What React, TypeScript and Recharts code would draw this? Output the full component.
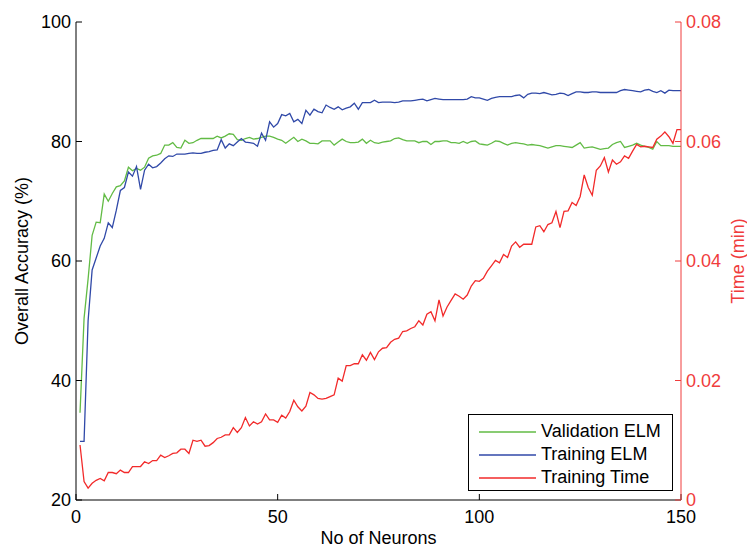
import { LineChart, Line, XAxis, YAxis, Legend } from "recharts";

const validationElm = [
  34.6, 50.4, 57.0, 64.3, 66.5, 66.4, 71.2, 70.0, 71.3, 72.4,
  72.6, 73.4, 75.7, 75.1, 75.5, 75.2, 75.7, 77.2, 77.6, 77.7,
  78.0, 79.4, 79.4, 79.8, 79.0, 78.9, 80.2, 79.7, 79.8, 80.2,
  80.5, 80.5, 80.5, 80.5, 80.9, 80.6, 80.9, 81.3, 81.2, 80.3,
  80.2, 80.5, 80.7, 80.4, 80.5, 80.7, 80.9, 80.9, 80.7, 80.4,
  80.2, 79.7, 80.2, 80.7, 80.0, 80.4, 80.1, 79.7, 79.7, 79.6,
  80.1, 80.1, 80.1, 79.4, 79.9, 80.4, 80.0, 79.8, 79.8, 79.9,
  80.4, 79.7, 80.2, 79.8, 79.7, 79.9, 80.0, 80.1, 80.5, 80.6,
  80.3, 80.1, 80.1, 80.1, 79.8, 80.0, 80.0, 79.5, 80.0, 80.0,
  80.1, 80.1, 79.8, 79.8, 79.7, 80.0, 79.7, 80.0, 80.1, 79.6,
  79.5, 79.4, 79.7, 80.1, 80.0, 79.7, 79.4, 79.7, 79.8, 79.7,
  79.6, 79.4, 79.5, 79.4, 79.3, 79.1, 78.9, 79.1, 79.3, 79.3,
  79.2, 79.1, 79.0, 79.4, 79.8, 78.9, 79.0, 79.1, 78.9, 78.7,
  78.8, 78.9, 79.5, 79.8, 80.0, 79.0, 79.2, 79.4, 79.7, 79.4,
  79.2, 79.0, 78.7, 80.0, 79.3, 79.3, 79.3, 79.2, 79.2, 79.2,
];

const trainingElm = [
  29.8, 29.8, 50.0, 58.5, 60.5, 62.5, 63.8, 66.4, 65.6, 68.5,
  71.8, 72.3, 74.9, 74.2, 75.8, 72.0, 75.2, 76.2, 75.6, 75.8,
  76.4, 77.1, 77.6, 77.5, 77.9, 77.9, 77.9, 78.0, 78.1, 78.0,
  78.0, 78.2, 78.3, 78.5, 78.6, 80.3, 78.9, 79.6, 79.3, 79.9,
  80.5, 79.9, 79.8, 79.7, 79.2, 81.4, 80.2, 83.3, 82.4, 83.0,
  84.5, 84.3, 84.7, 83.3, 83.7, 83.0, 85.2, 84.4, 85.4, 85.0,
  84.8, 86.1, 85.7, 85.4, 85.8, 85.3, 85.6, 85.8, 86.4, 85.4,
  86.5, 86.5, 86.5, 86.9, 86.5, 86.6, 86.6, 86.6, 86.5, 86.6,
  86.8, 86.8, 86.8, 86.9, 87.0, 87.1, 86.8, 87.0, 87.2, 87.1,
  87.0, 87.0, 87.0, 87.0, 87.0, 87.0, 87.1, 87.5, 87.3, 87.3,
  87.1, 86.9, 87.2, 87.4, 87.5, 87.5, 87.5, 87.5, 87.7, 87.8,
  87.3, 87.9, 88.1, 88.1, 88.0, 88.2, 88.0, 87.8, 87.9, 88.1,
  88.0, 87.7, 88.0, 88.3, 88.3, 88.2, 88.2, 88.3, 88.3, 88.2,
  88.2, 88.2, 88.2, 88.2, 88.5, 88.7, 88.6, 88.5, 88.4, 88.3,
  88.6, 88.7, 88.4, 88.2, 88.5, 88.1, 88.6, 88.5, 88.5, 88.5,
];

const trainingTime = [
  0.0092, 0.0031, 0.0020, 0.0028, 0.0033, 0.0036, 0.0032, 0.0046, 0.0046, 0.0044,
  0.0050, 0.0046, 0.0046, 0.0056, 0.0056, 0.0056, 0.0064, 0.0061, 0.0066, 0.0066,
  0.0075, 0.0071, 0.0074, 0.0078, 0.0079, 0.0085, 0.0085, 0.0078, 0.0100, 0.0098,
  0.0100, 0.0090, 0.0091, 0.0096, 0.0103, 0.0105, 0.0109, 0.0109, 0.0121, 0.0113,
  0.0121, 0.0138, 0.0124, 0.0131, 0.0127, 0.0131, 0.0144, 0.0134, 0.0134, 0.0130,
  0.0142, 0.0137, 0.0148, 0.0167, 0.0156, 0.0149, 0.0157, 0.0180, 0.0176, 0.0170,
  0.0169, 0.0170, 0.0173, 0.0176, 0.0204, 0.0199, 0.0225, 0.0225, 0.0228, 0.0228,
  0.0243, 0.0234, 0.0247, 0.0235, 0.0248, 0.0254, 0.0255, 0.0264, 0.0269, 0.0271,
  0.0282, 0.0283, 0.0287, 0.0290, 0.0300, 0.0293, 0.0311, 0.0315, 0.0300, 0.0335,
  0.0308, 0.0323, 0.0334, 0.0345, 0.0341, 0.0336, 0.0343, 0.0358, 0.0367, 0.0366,
  0.0371, 0.0383, 0.0392, 0.0401, 0.0397, 0.0411, 0.0406, 0.0425, 0.0432, 0.0423,
  0.0428, 0.0428, 0.0428, 0.0457, 0.0459, 0.0449, 0.0461, 0.0464, 0.0483, 0.0456,
  0.0483, 0.0484, 0.0498, 0.0493, 0.0508, 0.0544, 0.0523, 0.0510, 0.0552, 0.0559,
  0.0573, 0.0549, 0.0569, 0.0562, 0.0566, 0.0576, 0.0572, 0.0584, 0.0595, 0.0591,
  0.0592, 0.0591, 0.0590, 0.0604, 0.0609, 0.0616, 0.0608, 0.0597, 0.0620, 0.0620,
];

const neurons = validationElm.map((_, i) => i + 1);
const xTicks = [0, 50, 100, 150];
const accTicks = [20, 40, 60, 80, 100];
const timeTicks = [0, 0.02, 0.04, 0.06, 0.08];

const GREEN = "#62bb45";
const BLUE = "#3049a8";
const RED = "#f22a2a";
const AXIS_RED = "#f03c3c";
const FONT = "'Liberation Sans', Arial, Helvetica, sans-serif";

const data = neurons.map((n, i) => ({
  n,
  validation: validationElm[i],
  training: trainingElm[i],
  time: trainingTime[i],
}));

const legendItems = [
  { label: "Validation ELM", color: GREEN },
  { label: "Training ELM", color: BLUE },
  { label: "Training Time", color: RED },
];

function BoxLegend() {
  return (
    <div
      style={{
        width: 203,
        height: 70,
        border: "1px solid #000",
        background: "#fff",
        boxSizing: "content-box",
        paddingTop: 5,
        fontFamily: FONT,
        fontSize: 18,
        color: "#000",
      }}
    >
      {legendItems.map((it) => (
        <div key={it.label} style={{ display: "flex", alignItems: "center", height: 23 }}>
          <svg width={72} height={10} style={{ flex: "none" }}>
            <line x1={10} y1={5} x2={67} y2={5} stroke={it.color} strokeWidth={1.3} />
          </svg>
          <span>{it.label}</span>
        </div>
      ))}
    </div>
  );
}

export default function App() {
  return (
    <div style={{ position: "absolute", left: 0, top: 0, background: "#fff", fontFamily: FONT }}>
      <LineChart width={747} height={548} data={data} margin={{ top: 22, right: 0, bottom: 0, left: 0 }}>
        <XAxis
          xAxisId="bottom"
          dataKey="n"
          type="number"
          domain={[0, 150]}
          ticks={xTicks}
          height={48}
          stroke="#000"
          tickSize={-6}
          tickMargin={16}
          tick={{ fill: "#000", fontSize: 18, fontFamily: FONT }}
          label={{ value: "No of Neurons", position: "center", dy: 14, fill: "#000", fontSize: 18, fontFamily: FONT }}
        />
        <XAxis
          xAxisId="top"
          orientation="top"
          dataKey="n"
          type="number"
          domain={[0, 150]}
          ticks={xTicks}
          height={0}
          stroke="#000"
          tickSize={-6}
          tickFormatter={() => ""}
        />
        <YAxis
          yAxisId="acc"
          orientation="left"
          domain={[20, 100]}
          ticks={accTicks}
          width={76}
          stroke="#000"
          tickSize={-6}
          tickMargin={11}
          tick={{ fill: "#000", fontSize: 18, fontFamily: FONT }}
          label={{ value: "Overall Accuracy (%)", angle: -90, position: "center", dx: -16, fill: "#000", fontSize: 18, fontFamily: FONT }}
        />
        <YAxis
          yAxisId="time"
          orientation="right"
          domain={[0, 0.08]}
          ticks={timeTicks}
          width={66}
          stroke={AXIS_RED}
          tickSize={-6}
          tickMargin={11}
          tickFormatter={(v: number) => (v === 0 ? "0" : v.toFixed(2))}
          tick={{ fill: AXIS_RED, fontSize: 18, fontFamily: FONT }}
          label={{ value: "Time (min)", angle: -90, position: "center", dx: 24, fill: AXIS_RED, fontSize: 18, fontFamily: FONT }}
        />
        <Legend
          layout="vertical"
          align="center"
          verticalAlign="middle"
          content={() => <BoxLegend />}
          wrapperStyle={{ left: 468, top: 414, width: 205, height: 77 }}
        />
        <Line xAxisId="bottom" yAxisId="acc" type="linear" dataKey="validation" stroke={GREEN} strokeWidth={1.3} dot={false} isAnimationActive={false} />
        <Line xAxisId="bottom" yAxisId="acc" type="linear" dataKey="training" stroke={BLUE} strokeWidth={1.3} dot={false} isAnimationActive={false} />
        <Line xAxisId="bottom" yAxisId="time" type="linear" dataKey="time" stroke={RED} strokeWidth={1.3} dot={false} isAnimationActive={false} />
      </LineChart>
    </div>
  );
}
